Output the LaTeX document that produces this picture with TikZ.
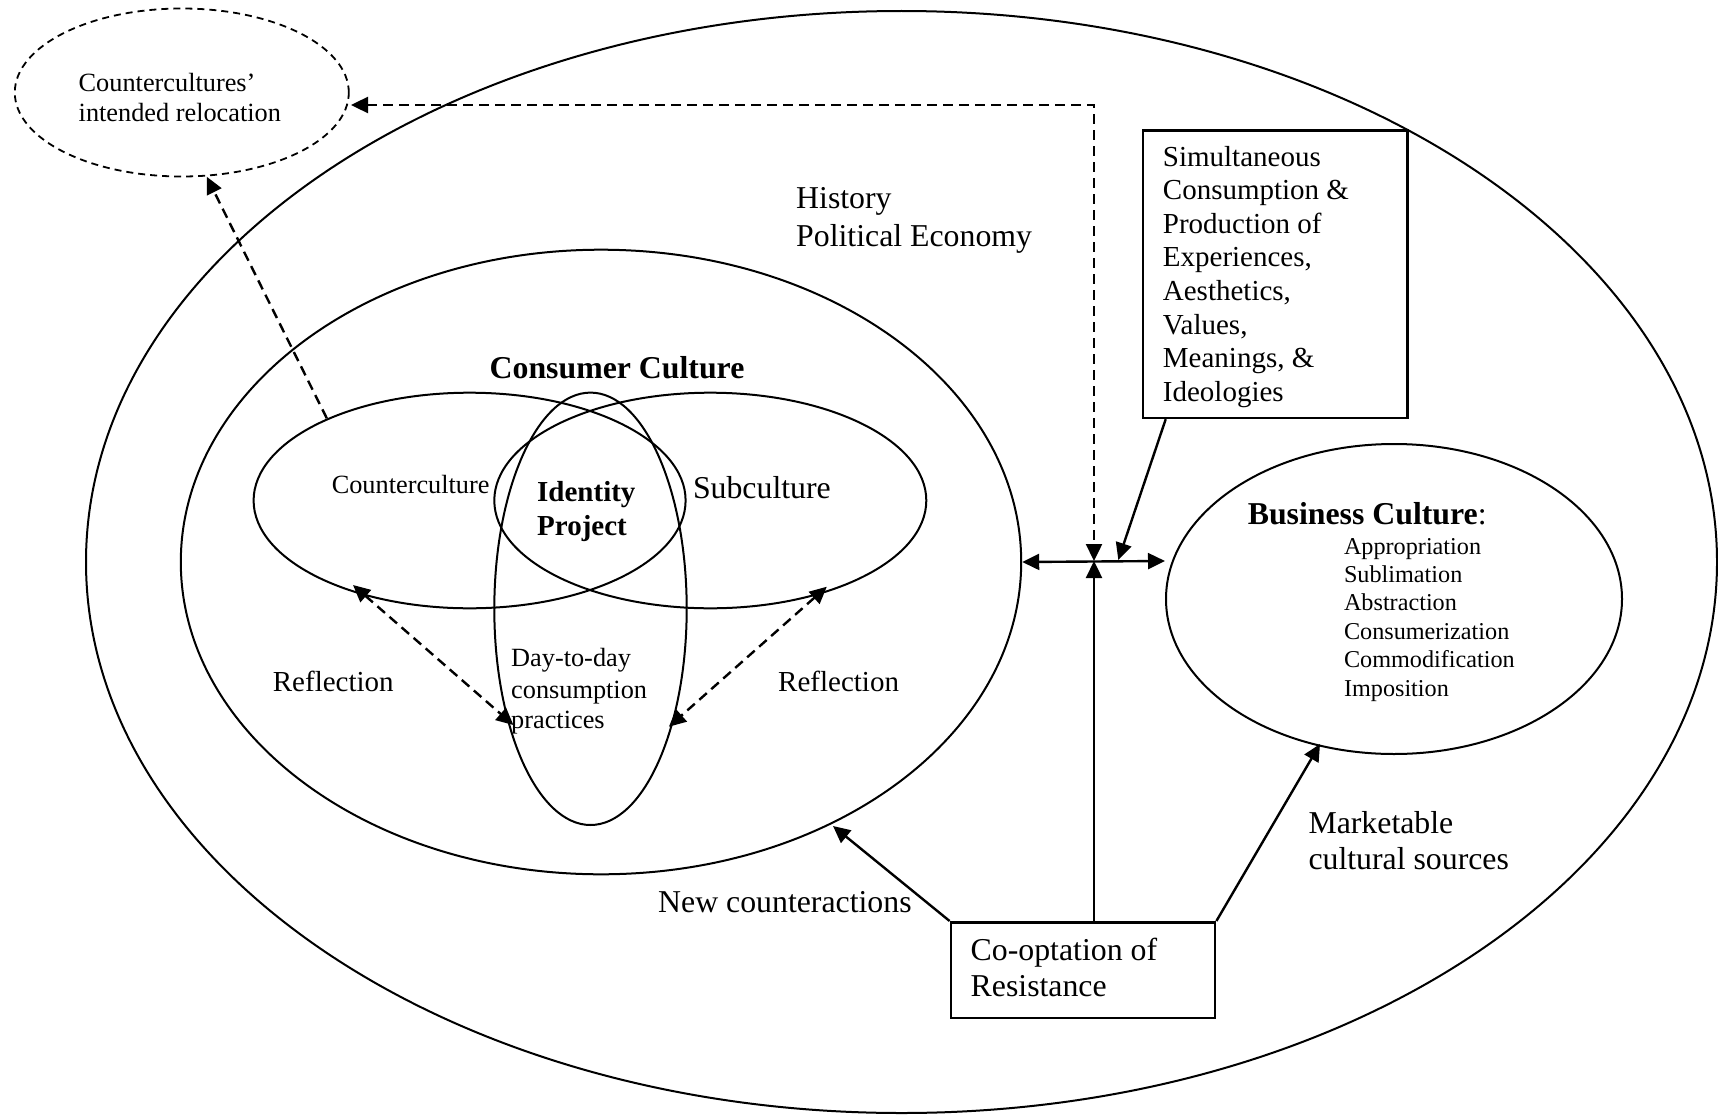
\documentclass[tikz,border=0pt]{standalone}
\usepackage{fontspec}
\setmainfont{Liberation Serif}
\usetikzlibrary{arrows.meta,shapes.geometric,calc}
\begin{document}
\begin{tikzpicture}[x=1pt,y=-1pt,
  >={Triangle[length=17pt,width=16pt]},
  lbl/.style={inner sep=0pt, anchor=base west},
  big/.style={lbl, font=\fontsize{31.8}{37}\selectfont},
  mid/.style={lbl, font=\fontsize{29}{34}\selectfont},
  small/.style={lbl, font=\fontsize{26.3}{30}\selectfont},
  tiny/.style={lbl, font=\fontsize{24.2}{28}\selectfont},
  oval/.style={ellipse, draw, line width=2pt, inner sep=0pt},
  frame/.style={draw, line width=2.6pt, fill=white, inner sep=0pt, anchor=north west},
  solidline/.style={line width=2.4pt},
  dashline/.style={line width=2.4pt, dash pattern=on 10pt off 6pt},
]
\useasboundingbox (0,0) rectangle (1718,1116);

% ---- cultural spheres ----
\node[oval, minimum width=1631pt, minimum height=1102pt] (world) at (901.5,562) {};
\node[oval, minimum width=840.4pt, minimum height=624.6pt] (consumer) at (601,562) {};
\node[oval, minimum width=432pt, minimum height=215.6pt] (counter) at (469.6,500.5) {};
\node[oval, minimum width=432pt, minimum height=215.6pt] (sub) at (710.3,500.5) {};
\node[oval, minimum width=192.4pt, minimum height=432.4pt] (daily) at (590.5,608.8) {};
\node[oval, minimum width=456pt, minimum height=310pt] (business) at (1394,599) {};
\node[oval, line width=1.8pt, dash pattern=on 7pt off 5pt,
      minimum width=334pt, minimum height=168pt] (relocation) at (181.8,92.5) {};

% ---- boxes ----
\node[frame, minimum width=264.3pt, minimum height=287.6pt] (simbox) at (1141.7,129) {};
\node[frame, minimum width=264.2pt, minimum height=95.7pt] (coopt) at (949.6,921) {};

% ---- labels ----
\node[small] (rel1) at (78.5,92) {Countercultures’};
\node[small] (rel2) at (78.5,121) {intended relocation};

\node[big] (hist1) at (796,208.3) {History};
\node[big] (hist2) at (796,246) {Political Economy};

\node[mid] (s1) at (1162.7,166) {Simultaneous};
\node[mid] (s2) at (1162.7,199.6) {Consumption \&};
\node[mid] (s3) at (1162.7,233.2) {Production of};
\node[mid] (s4) at (1162.7,266.8) {Experiences,};
\node[mid] (s5) at (1162.7,300.4) {Aesthetics,};
\node[mid] (s6) at (1162.7,334) {Values,};
\node[mid] (s7) at (1162.7,367.6) {Meanings, \&};
\node[mid] (s8) at (1162.7,401.2) {Ideologies};

\node[big, font=\fontsize{31.8}{37}\selectfont\bfseries] (cctitle) at (489.5,378.3) {Consumer Culture};
\node[small] (cclabel) at (331.6,493.3) {Counterculture};
\node[mid, font=\fontsize{29}{34}\selectfont\bfseries] (id1) at (537,501.7) {Identity};
\node[mid, font=\fontsize{29}{34}\selectfont\bfseries] (id2) at (537,535) {Project};
\node[big] (sublabel) at (692.8,498.3) {Subculture};
\node[mid] (reflL) at (272.7,691.7) {Reflection};
\node[mid] (reflR) at (778,691.7) {Reflection};
\node[small] (d1) at (511,666.7) {Day-to-day};
\node[small] (d2) at (511,698.3) {consumption};
\node[small] (d3) at (511,728.3) {practices};

\node[big] (bctitle) at (1247.6,524) {\textbf{Business Culture}:};
\node[tiny] (b1) at (1343.8,554) {Appropriation};
\node[tiny] (b2) at (1343.8,582.4) {Sublimation};
\node[tiny] (b3) at (1343.8,610.8) {Abstraction};
\node[tiny] (b4) at (1343.8,639.2) {Consumerization};
\node[tiny] (b5) at (1343.8,667.6) {Commodification};
\node[tiny] (b6) at (1343.8,696) {Imposition};

\node[big] (co1) at (970.5,960) {Co-optation of};
\node[big] (co2) at (970.5,996.7) {Resistance};
\node[big] (newc) at (658,912.3) {New counteractions};
\node[big] (mk1) at (1308.3,833.3) {Marketable};
\node[big] (mk2) at (1308.3,869) {cultural sources};

% ---- connector end points ----
\coordinate (hub) at (1094,561);
\coordinate (corner) at (1094,105);
\coordinate (relTip) at (351,105);
\coordinate (relBottom) at (206.7,176.7);
\coordinate (ccTop) at (326.8,418.3);
\coordinate (bcTip) at (1165,561);
\coordinate (simFoot) at ($(simbox.south west)+(24,0)$);
\coordinate (simTip) at (1118.3,560);
\coordinate (newTip) at (833,826);
\coordinate (mktTip) at (1320,744);
\coordinate (refL1) at (353,585);
\coordinate (refL2) at (513.4,725);
\coordinate (refR1) at (826.8,586.7);
\coordinate (refR2) at (668.9,726.7);

% ---- connectors ----
\draw[dashline, <->] (relTip) -- (corner) -- (hub);
\draw[dashline, ->] (ccTop) -- (relBottom);
\draw[dashline, <->] (refL1) -- (refL2);
\draw[dashline, <->] (refR1) -- (refR2);
\draw[solidline, <->] (consumer.east) -- (bcTip);
\draw[solidline, ->] (coopt.north -| hub) -- (hub);
\draw[solidline, ->] (simFoot) -- (simTip);
\draw[solidline, ->] (coopt.north west) -- (newTip);
\draw[solidline, ->] (coopt.north east) -- (mktTip);
\end{tikzpicture}
\end{document}
